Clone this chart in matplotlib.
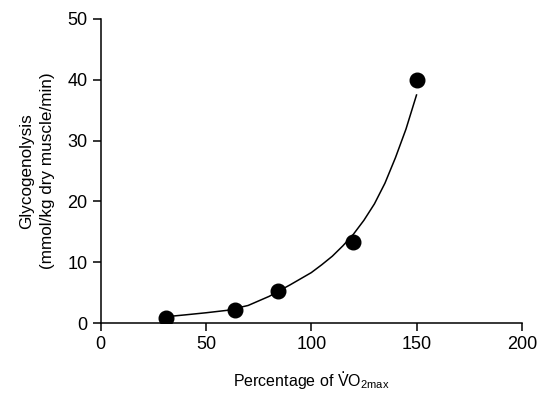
import numpy as np
import matplotlib
matplotlib.use('Agg')
import matplotlib.pyplot as plt

plt.rcParams['font.family'] = ['Liberation Sans', 'DejaVu Sans']
plt.rcParams['mathtext.fontset'] = 'custom'
plt.rcParams['mathtext.rm'] = 'Liberation Sans'
plt.rcParams['mathtext.it'] = 'Liberation Sans:italic'

# measured points
vo2 = [31, 64, 84, 120, 150]
glyco = [0.9, 2.2, 5.3, 13.3, 40.0]

# fitted curve
curve_x = [31, 40, 50, 60, 70, 80, 90, 100, 105, 110, 115, 120, 125, 130,
           135, 140, 145, 150]
curve_y = [1.05, 1.35, 1.7, 2.1, 2.9, 4.4, 6.3, 8.3, 9.6, 11.0, 12.7, 14.6,
           16.9, 19.6, 23.0, 27.2, 31.9, 37.5]

fig = plt.figure(figsize=(5.39, 3.95), dpi=100)
ax = fig.add_axes([0.187, 0.182, 0.781, 0.770])

ax.plot(curve_x, curve_y, color='black', lw=1.1, solid_joinstyle='round')
ax.plot(vo2, glyco, 'o', color='black', markersize=10.5, zorder=3)

ax.set_xlim(0, 200)
ax.set_ylim(0, 50)
ax.set_xticks([0, 50, 100, 150, 200])
ax.set_yticks([0, 10, 20, 30, 40, 50])
for s in ['top', 'right']:
    ax.spines[s].set_visible(False)
for s in ['left', 'bottom']:
    ax.spines[s].set_linewidth(1.1)
ax.tick_params(axis='both', direction='out', length=5.5, width=1.1, labelsize=13, pad=4)
ax.set_ylabel('Glycogenolysis\n(mmol/kg dry muscle/min)', fontsize=12.3,
              labelpad=9, linespacing=1.5)

# x label drawn on the baseline, with a dot over the V
fs = 11.5
W, H = fig.bbox.width, fig.bbox.height
xc = 0.187 + 0.781 / 2
yb = 9.0 / H
xl = fig.text(xc, yb, 'Percentage of VO$_{2\\mathrm{max}}$', fontsize=fs,
              ha='center', va='baseline')
fig.canvas.draw()
r = fig.canvas.get_renderer()
bb = xl.get_window_extent(r)
t1 = fig.text(0, 0, 'Percentage of ', fontsize=fs)
t2 = fig.text(0, 0, 'V', fontsize=fs)
w1 = t1.get_window_extent(r).width
w2 = t2.get_window_extent(r).width
t1.remove()
t2.remove()
cap = 0.729 * fs * fig.dpi / 72
xv = (bb.x0 + w1 + w2 / 2) / W
yv = (9.0 + cap + 1.5) / H
fig.text(xv, yv, '.', fontsize=fs, ha='center', va='baseline')

fig.savefig('out.png', dpi=100)
